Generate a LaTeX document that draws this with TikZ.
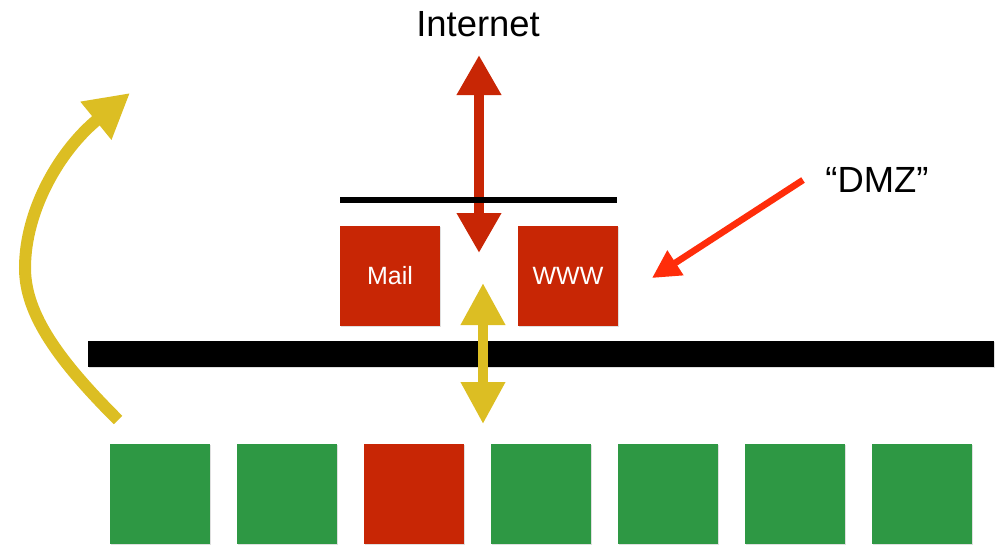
\documentclass[tikz,border=0pt]{standalone}
\usepackage{fontspec}
\setmainfont{Liberation Sans}
\usetikzlibrary{arrows.meta,shadows}

\definecolor{boxred}{RGB}{200,38,5}
\definecolor{boxgreen}{RGB}{46,152,68}
\definecolor{flowyellow}{RGB}{220,190,35}
\definecolor{dmzred}{RGB}{255,45,10}

\tikzset{
    hostbox/.style={minimum size=50pt, inner sep=0pt, fill=#1,
        drop shadow={shadow xshift=0.6pt, shadow yshift=-0.6pt, opacity=0.25}},
    server/.style={hostbox=boxred, text=white, font=\fontsize{12.5}{15}\selectfont},
    label/.style={font=\fontsize{18.2}{21}\selectfont},
    redflow/.style={draw=boxred, line width=5pt,
        {Triangle[length=20pt,width=21pt]}-{Triangle[length=20pt,width=21pt]}},
    yellowflow/.style={draw=flowyellow, line width=5pt,
        {Triangle[length=21pt,width=21pt]}-{Triangle[length=21pt,width=21pt]}}
}

\begin{document}
\begin{tikzpicture}[x=0.5pt, y=-0.5pt]
    \useasboundingbox (0, 0) rectangle (1002, 559);

    % labels
    \node[label] (inet) at (478, 24) {Internet};
    \node[label] (dmz) at (877, 180) {“DMZ”};

    % servers in the DMZ
    \node[server] (mail) at (390, 276) {Mail};
    \node[server] (www) at (568, 276) {WWW};

    % hosts on the inside
    \foreach \i/\c in {1/boxgreen, 2/boxgreen, 3/boxred, 4/boxgreen, 5/boxgreen, 6/boxgreen, 7/boxgreen}
        \node[hostbox=\c] (host\i) at (33 + 127*\i, 494) {};

    % end points of the arrows
    \coordinate (inettop) at (479, 55);
    \coordinate (dmzin) at (479, 253);
    \coordinate (lantop) at (483, 283);
    \coordinate (lanin) at (483, 424);
    \coordinate (curvetail) at (118, 420);
    \coordinate (curvetip) at (130, 93);
    \coordinate (dmzfrom) at (803, 180);
    \coordinate (dmzto) at (652, 278);

    \draw[redflow] (inettop) -- (dmzin);
    % firewalls
    \draw[line width=3.3pt] (340, 200) -- (617, 200);
    \fill[drop shadow={shadow xshift=0.6pt, shadow yshift=-0.6pt, opacity=0.25}] (88, 341) rectangle (994, 367);

    \draw[yellowflow] (lantop) -- (lanin);
    \draw[draw=flowyellow, line width=6pt, -{Triangle[length=22pt,width=23pt]}]
        (curvetail) .. controls (60, 362) and (25, 315) .. (25, 268)
        .. controls (25, 210) and (60, 150) .. (curvetip);
    \draw[draw=dmzred, line width=3.3pt, -{Triangle[length=14pt,width=14pt]}] (dmzfrom) -- (dmzto);
\end{tikzpicture}
\end{document}
